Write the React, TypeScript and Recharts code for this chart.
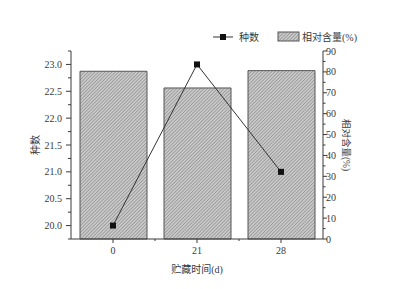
import { ComposedChart, Bar, Line, XAxis, YAxis } from 'recharts'

const days = ['0', '21', '28'];
const speciesCount = [20.0, 23.0, 21.0];
const relativeContent = [80.3, 72.3, 80.6];

const leftTicks = [19.75, 20, 20.25, 20.5, 20.75, 21, 21.25, 21.5, 21.75, 22, 22.25, 22.5, 22.75, 23, 23.25];
const rightTicks = [0, 5, 10, 15, 20, 25, 30, 35, 40, 45, 50, 55, 60, 65, 70, 75, 80, 85, 90];

const data = days.map((day, i) => ({
  day,
  count: speciesCount[i],
  content: relativeContent[i],
}));

const FONT = '"Liberation Serif", "Noto Sans CJK SC", serif';
const INK = '#3a3a3a';
const TS = 5;
const TM = 3;

const LeftTick = (props: any) => {
  const { x, y, payload } = props;
  const v = payload.value as number;
  const major = Number.isInteger(v * 2);
  const ax = x + TS + TM;
  return (
    <g>
      <line x1={ax} x2={ax - (major ? 5 : 3)} y1={y} y2={y} stroke={INK} />
      {major && (
        <text x={x - 1} y={y} dy={3.5} textAnchor="end" fontSize={10} fontFamily={FONT} fill={INK}>
          {v.toFixed(1)}
        </text>
      )}
    </g>
  );
};

const RightTick = (props: any) => {
  const { x, y, payload } = props;
  const v = payload.value as number;
  const major = v % 10 === 0;
  const ax = x - TS - TM;
  return (
    <g>
      <line x1={ax} x2={ax + (major ? 4 : 2.5)} y1={y} y2={y} stroke={INK} />
      {major && (
        <text x={ax + 3} y={y} dy={3.5} textAnchor="start" fontSize={10} fontFamily={FONT} fill={INK}>
          {v}
        </text>
      )}
    </g>
  );
};

const BottomTick = (props: any) => {
  const { x, y, payload, index, visibleTicksCount, width } = props;
  const ay = y - 4 - 2;
  const band = (width || 252) / (visibleTicksCount || 3);
  return (
    <g>
      <line x1={x} x2={x} y1={ay} y2={ay + 4} stroke={INK} />
      {index < visibleTicksCount - 1 && (
        <line x1={x + band / 2} x2={x + band / 2} y1={ay} y2={ay + 2} stroke={INK} />
      )}
      <text x={x} y={y} dy={9} textAnchor="middle" fontSize={10} fontFamily={FONT} fill={INK}>
        {payload.value}
      </text>
    </g>
  );
};

const Hatch = ({ id }: { id: string }) => (
  <pattern id={id} width="2.4" height="2.4" patternUnits="userSpaceOnUse" patternTransform="rotate(45)">
    <rect width="2.4" height="2.4" fill="#c9c9c9" />
    <line x1="0" y1="0" x2="0" y2="2.4" stroke="#7a7a7a" strokeWidth="1" />
  </pattern>
);

export default function App() {
  return (
    <div style={{ position: 'absolute', left: 0, top: 0, width: 399, height: 289, background: '#fff' }}>
      <ComposedChart
        width={399}
        height={289}
        data={data}
        margin={{ top: 51, right: 36, bottom: 16, left: 21 }}
        barCategoryGap="10%"
      >
        <defs>
          <Hatch id="hatch" />
        </defs>
        <XAxis
          dataKey="day"
          axisLine={{ stroke: INK }}
          tickLine={false}
          tickSize={4}
          tickMargin={2}
          height={34}
          interval={0}
          tick={<BottomTick />}
          label={{ value: '贮藏时间(d)', position: 'insideBottom', offset: 0, fontSize: 10, fontFamily: FONT, fill: INK }}
        />
        <YAxis
          yAxisId="left"
          orientation="left"
          width={50}
          domain={[19.75, 23.25]}
          ticks={leftTicks}
          interval={0}
          allowDataOverflow
          axisLine={{ stroke: INK }}
          tickLine={false}
          tickSize={TS}
          tickMargin={TM}
          tick={<LeftTick />}
          label={{ value: '种数', angle: -90, position: 'insideLeft', offset: 14, style: { textAnchor: 'middle' }, fontSize: 10, fontFamily: FONT, fill: INK }}
        />
        <YAxis
          yAxisId="right"
          orientation="right"
          width={40}
          domain={[0, 90]}
          ticks={rightTicks}
          interval={0}
          axisLine={{ stroke: INK }}
          tickLine={false}
          tickSize={TS}
          tickMargin={TM}
          tick={<RightTick />}
          label={{ value: '相对含量(%)', angle: 90, position: 'insideRight', offset: 17, style: { textAnchor: 'middle' }, fontSize: 9.5, fontFamily: FONT, fill: INK }}
        />
        <Bar
          yAxisId="right"
          dataKey="content"
          fill="url(#hatch)"
          stroke="#555"
          strokeWidth={1}
          barSize={67}
          isAnimationActive={false}
        />
        <Line
          yAxisId="left"
          dataKey="count"
          type="linear"
          stroke="#333"
          strokeWidth={1}
          dot={(p: any) => <rect key={p.index} x={p.cx - 3} y={p.cy - 3} width={6} height={6} fill="#111" />}
          isAnimationActive={false}
        />
      </ComposedChart>
      <svg width={399} height={289} style={{ position: 'absolute', left: 0, top: 0, pointerEvents: 'none' }}>
        <defs>
          <Hatch id="hatchLegend" />
        </defs>
        <line x1={213} x2={233} y1={37} y2={37} stroke="#333" />
        <rect x={220} y={34} width={6} height={6} fill="#111" />
        <text x={239} y={41} fontSize={10} fontFamily={FONT} fill={INK}>种数</text>
        <rect x={278} y={32} width={21} height={9} fill="url(#hatchLegend)" stroke="#555" />
        <text x={302} y={41} fontSize={10} fontFamily={FONT} fill={INK}>相对含量(%)</text>
      </svg>
    </div>
  );
}
